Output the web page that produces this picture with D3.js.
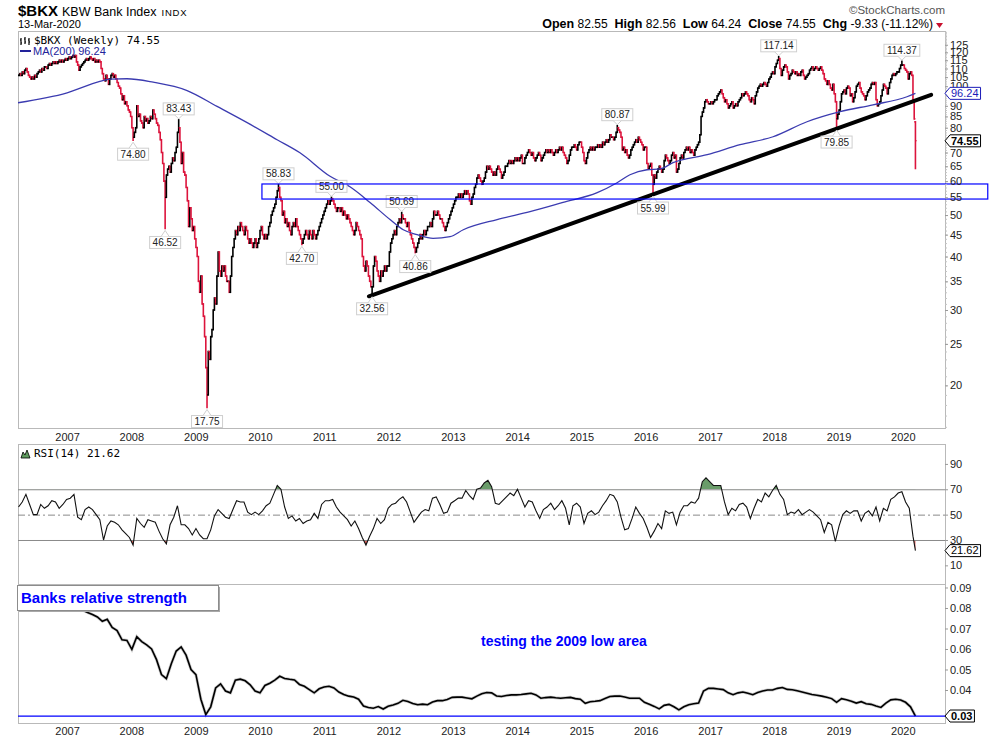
<!DOCTYPE html>
<html>
<head>
<meta charset="utf-8">
<script src="https://cdn.jsdelivr.net/npm/d3@7"></script>
<style>
body { margin: 0; background: #fff; }
svg { display: block; font-family: "Liberation Sans", Arial, sans-serif; }
</style>
</head>
<body>
<svg id="chart" width="989" height="739"></svg>
<script>
// weekly bars, first one is Friday 31-Mar-2006, last one 13-Mar-2020
var firstWeek = '2006-03-31';
var weeklyClose = [
  106,107,106,108,107,109,110,108,106,105,104,105,104,106,105,107,108,109,108,110,109,111,111,110,112,113,112,113,114,113,114,113,114,115,114,115,114,115,116,115,
  116,117,116,117,118,117,118,114,112,109,111,112,113,114,115,116,115,116,117,116,115,116,114,115,114,115,114,110,107,104,103,106,104,101,104,106,107,105,106,104,102,100,99,96,93,95,91,92,90,88,87,85,
  80,76,78,80,90,85,86,83,82,80,85,83,84,82,83,85,84,88,86,84,82,81,78,75,70,66,60,55,62,64,65,63,66,68,67,70,72,78,80,74,66,70,63,62,58,54,47,52,49,46,47,44,
  42,40,35,33,36,31,29,26,22,19,24,23,26,27,30,32,31,36,41,37,36,38,37,38,36,35,35,33,36,40,42,44,46,45,47,46,48,47,46,45,47,46,44,43,44,43,42,43,44,42,43,44,
  46,47,45,44,45,44,45,47,48,50,51,52,53,55,57,58,55,54,50,51,48,49,47,48,46,45,47,48,47,49,47,46,45,44,43,44,45,46,45,44,46,45,44,46,45,44,45,46,47,48,49,50,51,
  52,53,54,53,54,54.6,54,53,52,51,52,52,51,52,50,51,50,49,50,49,48,47,46,45,46,48,47,46,45,44,40,38,37,39,38,36,35,34,34,38,40,39,37,36,35,37,36,37,38,37,38,38,
  41,43,44,45,46,45,47,48,49,48,50,49,49,48,47,48,46,45,44,43,42,41,42,43,44,45,44,45,46,45,46,47,47,48,47,49,51,50,50,51,50,49,49,48,47,46,47,48,49,50,51,52,
  53,54,55,55,56,55,56,55,56,57,56,57,56,54,53,55,56,58,59,61,62,61,60,59,60,61,63,65,64,65,64,63,62,63,62,64,65,64,63,61,62,63,65,65,66,67,66,67,66,67,68,67,
  68,67,68,69,66,66,68,69,70,71,70,69,70,68,67,68,69,70,69,67,68,69,70,71,70,71,70,71,70,69,70,71,70,71,72,71,72,70,69,68,66,67,69,71,72,72,73,72,71,73,74,74,
  72,70,67,66,68,70,71,72,71,72,71,72,72,73,72,73,72,74,73,74,75,74,75,77,76,76,75,76,78,80,79,78,76,71,72,70,71,69,68,69,71,72,73,74,75,74,76,75,74,73,71,72,
  72,66,64,65,66,62,59,62,61,63,64,65,64,63,64,67,69,68,67,66,67,69,70,68,69,63,64,66,68,69,68,70,71,72,71,72,70,71,70,69,71,72,73,74,77,85,87,89,92,93,92,91,91,
  92,91,92,93,93,95,96,97,98,96,94,92,93,91,89,90,91,92,89,90,91,90,92,93,94,96,95,96,97,96,95,93,92,94,93,91,95,97,99,100,101,100,101,102,101,100,102,104,105,107,108,107,
  111,113,115,116,110,106,109,111,112,111,108,104,106,107,109,108,107,108,106,107,106,108,109,106,104,105,106,107,109,110,111,109,110,111,110,109,110,111,109,107,104,103,101,103,101,99,98,101,96,92,84,86,
  88,92,96,97,98,96,99,100,99,95,96,92,94,97,100,101,102,99,97,96,95,93,95,97,98,99,101,102,101,102,93,90,91,92,95,98,101,100,99,96,99,102,104,106,107,106,107,108,108,110,112,112,
  112,110,109,108,104,107,108,106,93,83.88,74.55
];
var lastBar = [82.55, 82.56, 64.24, 74.55]; // open, high, low, close

// labelled highs and lows (week index from firstWeek)
var extremeWeek  = [93, 130, 119, 153, 211, 230, 254, 287, 311, 322, 486, 515, 617, 664, 717];
var extremeValue = [74.80, 83.43, 46.52, 17.75, 58.83, 42.70, 55.00, 32.56, 50.69, 40.86, 80.87, 55.99, 117.14, 79.85, 114.37];
var extremeKind  = ['low','high','low','low','high','low','high','low','high','low','high','low','high','low','high'];

var maDates = ['2006-03-28','2007-01-01','2007-07-06','2007-09-02','2007-12-07','2008-05-04','2008-11-13','2009-05-02','2009-10-20',
  '2010-04-08','2010-08-16','2011-02-03','2011-05-27','2011-09-18','2012-01-10','2012-03-25','2012-06-12','2012-09-10','2012-12-16',
  '2013-03-01','2013-09-09','2014-03-15','2014-09-19','2015-04-01','2015-07-23','2015-10-04','2016-01-09','2016-03-24','2016-06-05',
  '2016-12-16','2017-06-21','2017-12-25','2018-07-06','2019-01-10','2019-07-16','2020-01-25','2020-03-13'];
var maValues = [91.5,96.5,102.6,103.9,104.1,102.2,97.7,89.7,82.2,75.0,69.9,61.6,58.2,53.5,48.8,46.2,45.0,44.1,44.5,
  46.2,48.8,50.9,53.5,56.4,59.5,62.1,63.8,64.1,66.3,69.2,73.0,76.2,82.6,87.2,90.5,94.5,96.24];

// RSI(14) read every 3rd week
var rsiStep = 3;
var rsiValues = [
  56,60,66,58,50,50,58,55,57,61, 60,55,58,62,63,66,48,46,54,56, 54,50,46,30,41,45,44,42,38,35,
  32,26,47,43,40,46,45,44,37,31, 27,42,48,57,42,42,39,34,39,34, 31,31,38,49,54,51,48,47,54,61,
  60,60,52,50,52,50,53,57,59,66, 73,70,56,47,49,45,47,43,45,46, 51,47,58,61,61,62,56,52,49,46,
  41,45,39,32,26,33,39,47,43,46, 55,58,59,62,64,60,52,44,48,52, 54,53,63,64,58,51,52,59,61,63,
  63,69,65,62,70,71,75,77,72,59, 58,61,64,67,65,70,63,56,61,60, 53,47,54,56,59,54,57,61,55,42,
  57,59,56,43,51,53,50,52,57,61, 66,65,60,48,38,39,47,56,51,47, 40,32,37,43,39,53,51,52,42,52,
  57,57,60,59,63,76,79,76,73,73, 73,60,50,55,53,58,59,56,47,55, 62,60,67,64,69,73,66,62,50,52,
  51,54,50,52,54,52,49,46,36,44, 42,29,41,50,53,51,53,53,45,51, 53,49,56,45,55,53,62,64,67,68,
  60,55,33
];
var rsiLast = 21.62;

// $BKX:$SPX read every 4th week
var rsStep = 4;
var rsValues = [
  0.085,0.086,0.087,0.086,0.087,0.088,0.087,0.088,0.089,0.088,
  0.087,0.085,0.083,0.079,0.0778,0.0768,0.0756,0.0735,0.0745,0.0705,
  0.069,0.0645,0.0642,0.0598,0.066,0.0636,0.062,0.060,0.0548,0.0475,
  0.0455,0.0528,0.059,0.061,0.057,0.050,0.0475,0.0355,0.028,0.0318,
  0.041,0.043,0.0395,0.0386,0.0448,0.0453,0.0445,0.0425,0.0395,0.0386,
  0.0422,0.0433,0.0448,0.0467,0.0456,0.0452,0.0449,0.0427,0.0418,0.0402,
  0.0386,0.0406,0.0415,0.0418,0.041,0.039,0.0378,0.037,0.0366,0.0355,
  0.0322,0.0315,0.0311,0.0319,0.0307,0.0321,0.0327,0.0335,0.035,0.0344,
  0.0334,0.0328,0.0331,0.0328,0.0341,0.0348,0.0348,0.0354,0.0364,0.0365,
  0.0365,0.0361,0.0357,0.037,0.0382,0.0388,0.0386,0.0371,0.0368,0.0373,
  0.0376,0.0376,0.0378,0.0381,0.0384,0.0376,0.036,0.0363,0.0365,0.0362,
  0.036,0.0362,0.0364,0.0358,0.0355,0.0335,0.0343,0.0345,0.0348,0.0358,
  0.0368,0.037,0.0371,0.0366,0.036,0.036,0.036,0.034,0.033,0.032,
  0.0308,0.0325,0.033,0.0318,0.0303,0.0318,0.0328,0.0333,0.0336,0.0395,
  0.0408,0.0408,0.0405,0.0402,0.0386,0.0377,0.0386,0.039,0.0384,0.0377,
  0.0388,0.0395,0.04,0.04,0.0408,0.0412,0.0403,0.0401,0.0396,0.039,
  0.0384,0.0378,0.0374,0.037,0.0365,0.0358,0.034,0.0358,0.0352,0.0345,
  0.0336,0.0343,0.0333,0.033,0.0322,0.0315,0.0336,0.0352,0.0355,0.0351,
  0.034,0.0318,0.0273
];
var rsSupport = 0.0273;

var trendDates = ['2011-09-12', '2020-06-10'];
var trendValues = [32.3, 95.5];
var zoneDates = ['2010-01-12', '2021-04-28'];
var zoneValues = [54.5, 59.1];

// 75 and 95 sit under the price tags
var priceTicks = [20,25,30,35,40,45,50,55,60,65,70,80,85,90,100,105,110,115,120,125];
var rsiTicks = [10,30,50,70,90];
var rsTicks = [0.04,0.05,0.06,0.07,0.08,0.09];
var years = [2007,2008,2009,2010,2011,2012,2013,2014,2015,2016,2017,2018,2019,2020];
var quoteLabels = ['Open','High','Low','Close','Chg'];
var quoteValues = ['82.55','82.56','64.24','74.55','-9.33 (-11.12%)'];

var parseDay = d3.utcParse('%Y-%m-%d');
function weekDate(i) { return d3.utcDay.offset(parseDay(firstWeek), 7 * i); }

var BkxChart = {
    fields: {
        svg: null,
        left: 18, right: 945,
        mainTop: 31, mainBot: 428,
        rsiTop: 444, rsiBot: 584,
        rsTop: 584, rsBot: 723,
        x: null, yP: null, yR: null, yS: null
    },
    setChart: function (sel) {
        var f = this.fields;
        f.svg = d3.select(sel);
        f.x = d3.scaleUtc().domain([parseDay('2006-03-28'), parseDay('2020-08-28')]).range([f.left, f.right]);
        f.yP = d3.scaleLog().domain([15.9, 134.6]).range([f.mainBot, f.mainTop]);
        f.yR = d3.scaleLinear().domain([-4.7, 105.7]).range([f.rsiBot, f.rsiTop]);
        f.yS = d3.scaleLinear().domain([0.0239, 0.0917]).range([f.rsBot, f.rsTop]);
        var defs = f.svg.append('defs');
        defs.append('clipPath').attr('id', 'clipMain').append('rect')
            .attr('x', f.left).attr('y', f.mainTop).attr('width', f.right - f.left).attr('height', f.mainBot - f.mainTop);
        defs.append('clipPath').attr('id', 'clipRs').append('rect')
            .attr('x', f.left).attr('y', f.rsTop).attr('width', f.right - f.left).attr('height', f.rsBot - f.rsTop);
        defs.append('clipPath').attr('id', 'clipHi').append('rect')
            .attr('x', f.left).attr('y', f.rsiTop).attr('width', f.right - f.left).attr('height', f.yR(70) - f.rsiTop);
        defs.append('clipPath').attr('id', 'clipLo').append('rect')
            .attr('x', f.left).attr('y', f.yR(30)).attr('width', f.right - f.left).attr('height', f.rsiBot - f.yR(30));
    },
    frames: function () {
        var f = this.fields;
        [[f.mainTop, f.mainBot], [f.rsiTop, f.rsiBot], [f.rsTop, f.rsBot]].forEach(function (p) {
            f.svg.append('rect').attr('x', f.left + 0.5).attr('y', p[0] + 0.5)
                .attr('width', f.right - f.left).attr('height', p[1] - p[0])
                .attr('fill', 'none').attr('stroke', '#b9b9b9');
        });
    },
    header: function () {
        var s = this.fields.svg;
        var sym = s.append('text').attr('x', 18).attr('y', 16).attr('font-size', 15).attr('font-weight', 'bold').text('$BKX');
        var x1 = 18 + sym.node().getComputedTextLength() + 4;
        var nm = s.append('text').attr('x', x1).attr('y', 16).attr('font-size', 12.5).text('KBW Bank Index');
        var x2 = x1 + nm.node().getComputedTextLength() + 5;
        s.append('text').attr('x', x2).attr('y', 16).attr('font-size', 9.5).attr('letter-spacing', 0.8).text('INDX');
        s.append('text').attr('x', 18).attr('y', 28).attr('font-size', 11).text('13-Mar-2020');
        s.append('text').attr('x', 945).attr('y', 14).attr('font-size', 11.5).attr('fill', '#555')
            .attr('text-anchor', 'end').text('\u00A9StockCharts.com');
        var q = s.append('text').attr('x', 933).attr('y', 28).attr('font-size', 12.5).attr('text-anchor', 'end');
        quoteLabels.forEach(function (lab, i) {
            q.append('tspan').attr('font-weight', 'bold').text((i ? '\u00A0\u00A0' : '') + lab + ' ');
            q.append('tspan').attr('font-size', 12).text(quoteValues[i]);
        });
        s.append('path').attr('d', 'M936,23 L943,23 L939.5,28 Z').attr('fill', '#c8102e');
    },
    bars: function () {
        var f = this.fields, x = f.x, y = f.yP;
        var bars = weeklyClose.map(function (c, i) {
            var o = i ? weeklyClose[i - 1] : c;
            return { d: weekDate(i), o: o, c: c, h: Math.max(o, c), l: Math.min(o, c), up: c >= o };
        });
        extremeWeek.forEach(function (w, k) {
            bars[w].h = Math.max(bars[w].h, extremeValue[k]);
            bars[w].l = Math.min(bars[w].l, extremeValue[k]);
        });
        var last = bars[bars.length - 1];
        last.o = lastBar[0]; last.h = lastBar[1]; last.l = lastBar[2]; last.c = lastBar[3];
        last.up = last.c >= weeklyClose[weeklyClose.length - 2];
        f.bars = bars;

        var g = f.svg.append('g').attr('clip-path', 'url(#clipMain)');
        var bar = g.selectAll('g.bar').data(bars).enter().append('g')
            .attr('stroke', function (d) { return d.up ? '#000' : '#dc143c'; })
            .attr('stroke-width', 1.6);
        bar.append('line')
            .attr('x1', function (d) { return x(d.d); }).attr('x2', function (d) { return x(d.d); })
            .attr('y1', function (d) { return y(d.h) - 0.8; }).attr('y2', function (d) { return y(d.l) + 0.8; });
        bar.append('line')
            .attr('x1', function (d) { return x(d.d) - 1.3; }).attr('x2', function (d) { return x(d.d); })
            .attr('y1', function (d) { return y(d.o); }).attr('y2', function (d) { return y(d.o); })
            .attr('stroke-width', 1.1);
        bar.append('line')
            .attr('x1', function (d) { return x(d.d); }).attr('x2', function (d) { return x(d.d) + 1.3; })
            .attr('y1', function (d) { return y(d.c); }).attr('y2', function (d) { return y(d.c); })
            .attr('stroke-width', 1.1);

        var ma = maDates.map(function (d, i) { return { d: parseDay(d), v: maValues[i] }; });
        g.append('path').datum(ma)
            .attr('d', d3.line().curve(d3.curveMonotoneX).x(function (d) { return x(d.d); }).y(function (d) { return y(d.v); }))
            .attr('fill', 'none').attr('stroke', '#3b3bb0').attr('stroke-width', 1.3);

        f.svg.append('line')
            .attr('x1', x(parseDay(trendDates[0]))).attr('y1', y(trendValues[0]))
            .attr('x2', x(parseDay(trendDates[1]))).attr('y2', y(trendValues[1]))
            .attr('stroke', '#000').attr('stroke-width', 4).attr('stroke-linecap', 'round');
    },
    extremes: function () {
        var f = this.fields, x = f.x, y = f.yP;
        extremeWeek.forEach(function (w, k) {
            var cx = x(weekDate(w)), yv = y(extremeValue[k]), high = extremeKind[k] === 'high';
            var g = f.svg.append('g');
            var t = g.append('text').attr('font-size', 10).attr('fill', '#222').attr('text-anchor', 'middle')
                .text(extremeValue[k].toFixed(2));
            var bw = t.node().getComputedTextLength() + 6, bh = 12;
            var by = high ? yv - 5 - bh : yv + 8;
            g.insert('rect', 'text').attr('x', cx - bw / 2).attr('y', by).attr('width', bw).attr('height', bh)
                .attr('fill', '#fff').attr('stroke', '#cfcfcf');
            var edge = high ? by + bh : by, tip = high ? yv - 1 : yv + 2;
            g.insert('path', 'text').attr('d', 'M' + (cx - 4) + ',' + edge + ' L' + cx + ',' + tip + ' L' + (cx + 4) + ',' + edge)
                .attr('fill', '#fff').attr('stroke', '#cfcfcf');
            t.attr('x', cx).attr('y', by + 9.5);
        });
    },
    zone: function () {
        var f = this.fields;
        var x0 = f.x(parseDay(zoneDates[0])), x1 = f.x(parseDay(zoneDates[1]));
        f.svg.append('rect').attr('x', x0).attr('y', f.yP(zoneValues[1]))
            .attr('width', x1 - x0).attr('height', f.yP(zoneValues[0]) - f.yP(zoneValues[1]))
            .attr('fill', 'none').attr('stroke', '#0000ff').attr('stroke-width', 1.2);
    },
    rightAxis: function (scale, ticks, fmt, minor) {
        var f = this.fields;
        if (minor) {
            f.svg.append('g').selectAll('line').data(minor).enter().append('line')
                .attr('x1', f.right).attr('x2', f.right + 2)
                .attr('y1', function (d) { return scale(d) + 0.5; }).attr('y2', function (d) { return scale(d) + 0.5; })
                .attr('stroke', '#c4c4c4');
        }
        var ax = f.svg.append('g').attr('transform', 'translate(' + f.right + ',0)')
            .call(d3.axisRight(scale).tickValues(ticks).tickFormat(fmt).tickSize(3).tickPadding(2));
        ax.select('.domain').remove();
        ax.selectAll('line').attr('stroke', '#999');
        ax.selectAll('text').attr('font-size', 11).attr('fill', '#222')
            .attr('font-family', '"Liberation Sans", Arial, sans-serif');
    },
    yearAxis: function (yPos) {
        var f = this.fields;
        var ax = f.svg.append('g').attr('transform', 'translate(0,' + yPos + ')')
            .call(d3.axisBottom(f.x).tickValues(years.map(function (yr) { return new Date(Date.UTC(yr, 0, 1)); }))
                .tickFormat(d3.utcFormat('%Y')).tickSize(0).tickPadding(0));
        ax.select('.domain').remove();
        ax.selectAll('text').attr('font-size', 11).attr('fill', '#222').attr('dy', '0.35em')
            .attr('font-family', '"Liberation Sans", Arial, sans-serif');
    },
    tag: function (cy, label, color, bold) {
        var s = this.fields.svg;
        var g = s.append('g');
        var t = g.append('text').attr('x', 951).attr('y', cy).attr('dy', '0.35em')
            .attr('font-size', 11).attr('fill', color).attr('font-weight', bold ? 'bold' : 'normal').text(label);
        var r = 951 + t.node().getComputedTextLength() + 2;
        g.insert('path', 'text')
            .attr('d', 'M945,' + cy + ' L950,' + (cy - 6) + ' L' + r + ',' + (cy - 6) + ' L' + r + ',' + (cy + 6) + ' L950,' + (cy + 6) + ' Z')
            .attr('fill', '#fff').attr('stroke', color).attr('stroke-width', 1);
    },
    legends: function () {
        var s = this.fields.svg;
        // tiny OHLC glyph
        s.append('path').attr('d', 'M21,38 V45 M20,40 H21 M21,43 H22 M25,37 V44 M24,39 H25 M25,42 H26 M29,38 V45 M28,40 H29 M29,42 H30')
            .attr('stroke', '#000').attr('stroke-width', 1.2).attr('fill', 'none');
        s.append('text').attr('x', 34).attr('y', 44).attr('font-size', 11)
            .attr('font-family', '"DejaVu Sans Mono", monospace').text('$BKX (Weekly) ' + weeklyClose[weeklyClose.length - 1].toFixed(2));
        s.append('line').attr('x1', 20).attr('x2', 31).attr('y1', 51).attr('y2', 51).attr('stroke', '#22229a').attr('stroke-width', 2);
        s.append('text').attr('x', 33).attr('y', 55).attr('font-size', 11).attr('fill', '#22229a')
            .text('MA(200) ' + maValues[maValues.length - 1].toFixed(2));
        s.append('path').attr('d', 'M21,458 L23,452 L25,455 L27,450 L30,458 Z').attr('fill', '#5e9a5e').attr('stroke', '#000').attr('stroke-width', 0.8);
        s.append('text').attr('x', 34).attr('y', 457).attr('font-size', 11)
            .attr('font-family', '"DejaVu Sans Mono", monospace').text('RSI(14) ' + rsiLast.toFixed(2));
    },
    rsi: function () {
        var f = this.fields, x = f.x, y = f.yR;
        var pts = rsiValues.map(function (v, k) { return { d: weekDate(k * rsiStep), v: v }; });
        pts.push({ d: weekDate(weeklyClose.length - 1), v: rsiLast });
        f.svg.append('path').datum(pts).attr('clip-path', 'url(#clipHi)')
            .attr('d', d3.area().x(function (d) { return x(d.d); }).y0(y(70)).y1(function (d) { return y(d.v); }))
            .attr('fill', '#6a9c6a');
        f.svg.append('path').datum(pts).attr('clip-path', 'url(#clipLo)')
            .attr('d', d3.area().x(function (d) { return x(d.d); }).y0(y(30)).y1(function (d) { return y(d.v); }))
            .attr('fill', '#e0605a');
        [70, 30].forEach(function (lv) {
            f.svg.append('line').attr('x1', f.left).attr('x2', f.right).attr('y1', y(lv) + 0.5).attr('y2', y(lv) + 0.5)
                .attr('stroke', '#8a8a8a');
        });
        f.svg.append('line').attr('x1', f.left).attr('x2', f.right).attr('y1', y(50) + 0.5).attr('y2', y(50) + 0.5)
            .attr('stroke', '#8a8a8a').attr('stroke-dasharray', '7,3,2,3');
        f.svg.append('path').datum(pts)
            .attr('d', d3.line().x(function (d) { return x(d.d); }).y(function (d) { return y(d.v); }))
            .attr('fill', 'none').attr('stroke', '#111').attr('stroke-width', 1.1);
    },
    relStrength: function () {
        var f = this.fields, x = f.x, y = f.yS;
        var pts = rsValues.map(function (v, k) { return { d: weekDate(k * rsStep), v: v }; });
        var g = f.svg.append('g').attr('clip-path', 'url(#clipRs)');
        g.append('path').datum(pts)
            .attr('d', d3.line().x(function (d) { return x(d.d); }).y(function (d) { return y(d.v); }))
            .attr('fill', 'none').attr('stroke', '#999').attr('stroke-width', 3).attr('stroke-opacity', 0.5);
        g.append('path').datum(pts)
            .attr('d', d3.line().x(function (d) { return x(d.d); }).y(function (d) { return y(d.v); }))
            .attr('fill', 'none').attr('stroke', '#000').attr('stroke-width', 1.6);
        f.svg.append('line').attr('x1', f.left).attr('x2', f.right).attr('y1', y(rsSupport)).attr('y2', y(rsSupport))
            .attr('stroke', '#0000ff').attr('stroke-width', 1.2);
        // note box
        f.svg.append('rect').attr('x', 19).attr('y', 587).attr('width', 201).attr('height', 25).attr('fill', '#a8a8a8');
        f.svg.append('rect').attr('x', 17.5).attr('y', 585.5).attr('width', 201).attr('height', 25)
            .attr('fill', '#fff').attr('stroke', '#8c8c8c');
        f.svg.append('text').attr('x', 21).attr('y', 603).attr('font-size', 15).attr('font-weight', 'bold')
            .attr('fill', '#0000ff').text('Banks relative strength');
        f.svg.append('text').attr('x', 481).attr('y', 646).attr('font-size', 14).attr('font-weight', 'bold')
            .attr('fill', '#0000ff').text('testing the 2009 low area');
    }
};

function initChart() {
    var c = BkxChart, f = c.fields;
    c.setChart('#chart');
    c.frames();
    c.header();
    c.bars();
    c.extremes();
    c.zone();
    c.rsi();
    c.relStrength();
    c.legends();
    c.rightAxis(f.yP, priceTicks, d3.format('d'), d3.range(16, 135));
    c.rightAxis(f.yR, rsiTicks, d3.format('d'));
    c.rightAxis(f.yS, rsTicks, d3.format('.2f'));
    c.yearAxis(437);
    c.yearAxis(731);
    c.tag(f.yP(maValues[maValues.length - 1]), maValues[maValues.length - 1].toFixed(2), '#1b1bb8', false);
    c.tag(f.yP(lastBar[3]), lastBar[3].toFixed(2), '#000', true);
    c.tag(f.yR(rsiLast), rsiLast.toFixed(2), '#000', false);
    c.tag(f.yS(rsSupport), d3.format('.2f')(rsSupport), '#000', true);
}
initChart();
</script>
</body>
</html>
